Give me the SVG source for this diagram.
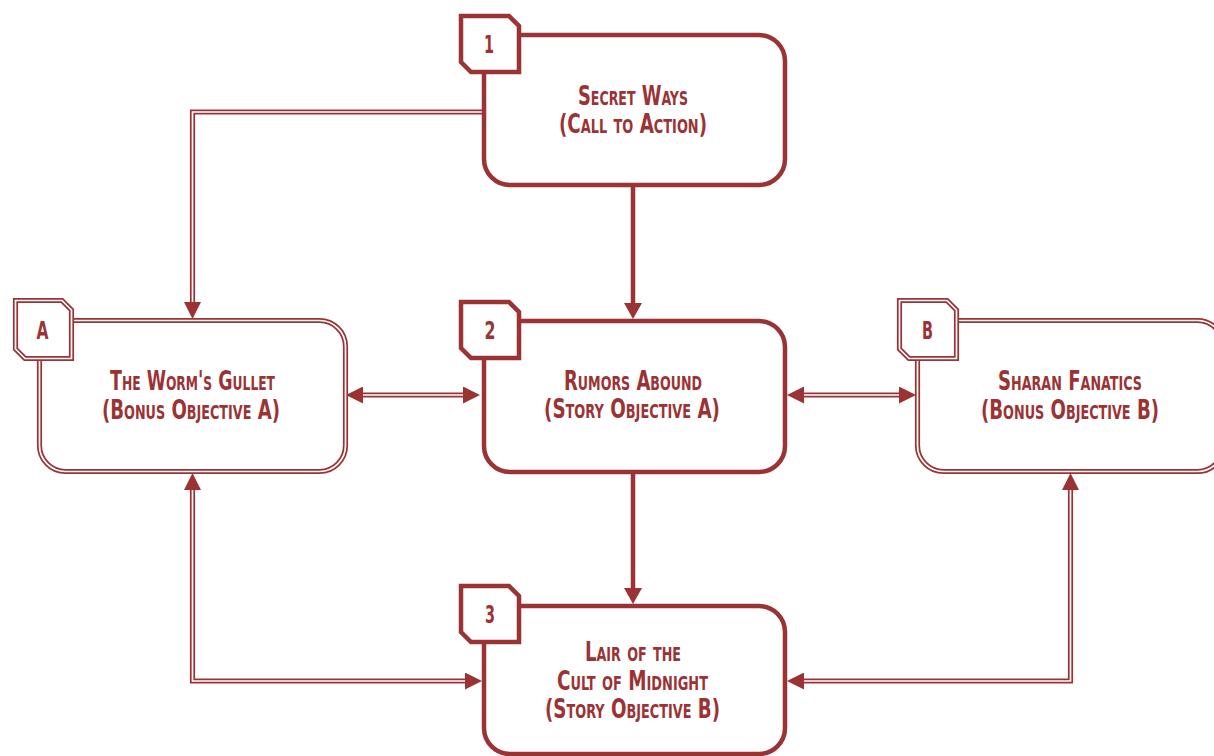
<svg xmlns="http://www.w3.org/2000/svg" width="1214" height="756" viewBox="0 0 1214 756">
<style>
  .thick { fill: #ffffff; stroke: #9b3335; stroke-width: 4.5; }
  .dbl-out { fill: #ffffff; stroke: #9b3335; stroke-width: 5.2; }
  .dbl-in { fill: none; stroke: #ffffff; stroke-width: 1.7; }
  .lt { fill: none; stroke: #9b3335; stroke-width: 4.5; }
  .lo { fill: none; stroke: #9b3335; stroke-width: 5.2; stroke-linejoin: miter; }
  .li { fill: none; stroke: #ffffff; stroke-width: 1.7; stroke-linejoin: miter; }
  text { font-family: "Liberation Sans Narrow", "DejaVu Sans Condensed", "Liberation Sans", sans-serif; fill: #9b3335; font-weight: bold; text-anchor: middle; }
  .lbl { font-size: 27px; font-variant: small-caps; }
  .num { font-size: 25px; }
</style>
<defs>
  <marker id="at" markerUnits="userSpaceOnUse" viewBox="0 0 16 18" markerWidth="16" markerHeight="18" refX="0" refY="9" orient="auto-start-reverse">
    <path d="M0,0 L16,9 L0,18 Z" fill="#9b3335"/>
  </marker>
  <marker id="ad" markerUnits="userSpaceOnUse" viewBox="0 0 17 17" markerWidth="17" markerHeight="17" refX="0" refY="8.5" orient="auto-start-reverse">
    <path d="M0,0 L17,8.5 L0,17 Z" fill="#9b3335"/>
  </marker>
</defs>
<rect width="1214" height="756" fill="#ffffff"/>

<g id="connectors">
  <!-- 1 -> A -->
  <path class="lo" d="M486,112 H192.5 V302" marker-end="url(#ad)"/>
  <path class="li" d="M486,112 H192.5 V302"/>
  <!-- 1 -> 2 -->
  <path class="lt" d="M633,186 V303" marker-end="url(#at)"/>
  <!-- A <-> 2 -->
  <path class="lo" d="M363,395 H463" marker-start="url(#ad)" marker-end="url(#ad)"/>
  <path class="li" d="M363,395 H463"/>
  <!-- 2 <-> B -->
  <path class="lo" d="M804,395 H899" marker-start="url(#ad)" marker-end="url(#ad)"/>
  <path class="li" d="M804,395 H899"/>
  <!-- 2 -> 3 -->
  <path class="lt" d="M633,473 V588" marker-end="url(#at)"/>
  <!-- A <-> 3 -->
  <path class="lo" d="M192.5,490 V681 H465" marker-start="url(#ad)" marker-end="url(#ad)"/>
  <path class="li" d="M192.5,490 V681 H465"/>
  <!-- B <-> 3 -->
  <path class="lo" d="M1070.5,490 V681 H804" marker-start="url(#ad)" marker-end="url(#ad)"/>
  <path class="li" d="M1070.5,490 V681 H804"/>
</g>

<g id="node-1">
  <rect class="thick" x="484" y="35" width="301" height="150" rx="26"/>
  <polygon class="thick" points="461,16 509,16 519,26 519,72 471,72 461,62"/>
  <text class="num" x="489" y="53" textLength="10" lengthAdjust="spacingAndGlyphs">1</text>
  <text class="lbl" x="633" y="105" textLength="110" lengthAdjust="spacingAndGlyphs">Secret Ways</text>
  <text class="lbl" x="633" y="133" textLength="148" lengthAdjust="spacingAndGlyphs">(Call to Action)</text>
</g>

<g id="node-2">
  <rect class="thick" x="484" y="321" width="301" height="151" rx="26"/>
  <polygon class="thick" points="461,302 509,302 519,312 519,358 471,358 461,348"/>
  <text class="num" x="490" y="339" textLength="11" lengthAdjust="spacingAndGlyphs">2</text>
  <text class="lbl" x="633" y="390" textLength="138" lengthAdjust="spacingAndGlyphs">Rumors Abound</text>
  <text class="lbl" x="632" y="418" textLength="176" lengthAdjust="spacingAndGlyphs">(Story Objective A)</text>
</g>

<g id="node-3">
  <rect class="thick" x="484" y="606" width="301" height="148" rx="26"/>
  <polygon class="thick" points="461,586 509,586 519,596 519,642 471,642 461,632"/>
  <text class="num" x="490" y="623" textLength="10" lengthAdjust="spacingAndGlyphs">3</text>
  <text class="lbl" x="633" y="661" textLength="96" lengthAdjust="spacingAndGlyphs">Lair of the</text>
  <text class="lbl" x="632.5" y="690" textLength="151" lengthAdjust="spacingAndGlyphs">Cult of Midnight</text>
  <text class="lbl" x="632.5" y="718" textLength="175" lengthAdjust="spacingAndGlyphs">(Story Objective B)</text>
</g>

<g id="node-A">
  <rect class="dbl-out" x="39.5" y="320.5" width="306" height="151" rx="26"/>
  <rect class="dbl-in" x="39.5" y="320.5" width="306" height="151" rx="26"/>
  <polygon class="dbl-out" points="15.5,300.5 62,300.5 71.5,310 71.5,358.5 25,358.5 15.5,349"/>
  <polygon class="dbl-in" points="15.5,300.5 62,300.5 71.5,310 71.5,358.5 25,358.5 15.5,349"/>
  <text class="num" x="42.5" y="339" textLength="12" lengthAdjust="spacingAndGlyphs">A</text>
  <text class="lbl" x="192.5" y="390" textLength="165" lengthAdjust="spacingAndGlyphs">The Worm's Gullet</text>
  <text class="lbl" x="191" y="419" textLength="178" lengthAdjust="spacingAndGlyphs">(Bonus Objective A)</text>
</g>

<g id="node-B">
  <rect class="dbl-out" x="917.5" y="320.5" width="306" height="151" rx="26"/>
  <rect class="dbl-in" x="917.5" y="320.5" width="306" height="151" rx="26"/>
  <polygon class="dbl-out" points="899.5,300.5 947,300.5 956.5,310 956.5,358.5 909,358.5 899.5,349"/>
  <polygon class="dbl-in" points="899.5,300.5 947,300.5 956.5,310 956.5,358.5 909,358.5 899.5,349"/>
  <text class="num" x="927.5" y="339" textLength="11" lengthAdjust="spacingAndGlyphs">B</text>
  <text class="lbl" x="1070" y="390" textLength="144" lengthAdjust="spacingAndGlyphs">Sharan Fanatics</text>
  <text class="lbl" x="1070" y="419" textLength="178" lengthAdjust="spacingAndGlyphs">(Bonus Objective B)</text>
</g>
</svg>
